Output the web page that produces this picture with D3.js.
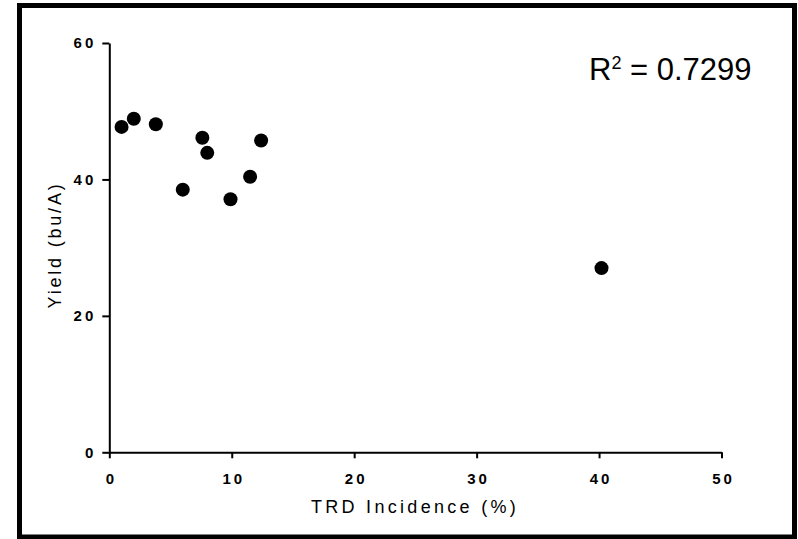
<!DOCTYPE html>
<html><head><meta charset="utf-8">
<script src="https://cdn.jsdelivr.net/npm/d3@7"></script>
<style>
html,body{margin:0;padding:0;background:#fff;}
svg{display:block;font-family:"Liberation Sans",Arial,Helvetica,sans-serif;}
</style></head>
<body><svg id="c" width="798" height="539"></svg>
<script>
const incidence = [1.0, 2.0, 3.8, 7.6, 8.0, 12.4, 11.5, 6.0, 9.9, 40.2];
const yieldBuA = [47.7, 48.9, 48.1, 46.1, 43.9, 45.7, 40.4, 38.5, 37.1, 27.0];
const xTicks = [0, 10, 20, 30, 40, 50];
const yTicks = [0, 20, 40, 60];
const xTitle = "TRD Incidence (%)";
const yTitle = "Yield (bu/A)";
const r2Text = "0.7299";

const svg = d3.select("#c");
const x = d3.scaleLinear().domain([0, 50]).range([109.3, 721.5]);
const y = d3.scaleLinear().domain([0, 60]).range([452.3, 43]);

svg.append("rect").attr("x", 19.5).attr("y", 5.5).attr("width", 775).attr("height", 531.5)
  .attr("fill", "none").attr("stroke", "#000").attr("stroke-width", 5);

const xAxis = svg.append("g").attr("transform", `translate(0,${y(0)})`)
  .call(d3.axisBottom(x).tickValues(xTicks).tickSize(6).tickSizeOuter(0).tickPadding(15));
const yAxis = svg.append("g").attr("transform", `translate(${x(0)},0)`)
  .call(d3.axisLeft(y).tickValues(yTicks).tickSize(7).tickSizeOuter(0).tickPadding(9));

[xAxis, yAxis].forEach(g => {
  g.select(".domain").attr("stroke", "#000").attr("stroke-width", 2);
  g.selectAll(".tick line").attr("stroke", "#000").attr("stroke-width", 2);
  g.selectAll(".tick text").attr("fill", "#000")
    .style("font-family", '"Liberation Sans",Arial,sans-serif')
    .style("font-size", "15px").style("font-weight", "bold").style("letter-spacing", "3px");
});
xAxis.selectAll(".tick text").attr("dx", "1.5px");
yAxis.selectAll(".tick text").attr("dx", "3px");

svg.append("text").attr("x", 415).attr("y", 513).attr("text-anchor", "middle")
  .style("font-size", "18px").style("letter-spacing", "3.3px").text(xTitle);
svg.append("text").attr("transform", "translate(61,245) rotate(-90)").attr("text-anchor", "middle")
  .style("font-size", "18px").style("letter-spacing", "2.8px").text(yTitle);

svg.append("g").selectAll("circle").data(incidence).join("circle")
  .attr("cx", d => x(d)).attr("cy", (d, i) => y(yieldBuA[i])).attr("r", 7).attr("fill", "#000");

const t = svg.append("text").attr("x", 589).attr("y", 80).style("font-size", "31px");
t.append("tspan").text("R");
t.append("tspan").attr("dy", -11).style("font-size", "18px").text("2");
t.append("tspan").attr("dy", 11).text(" = " + r2Text);
</script></body></html>
